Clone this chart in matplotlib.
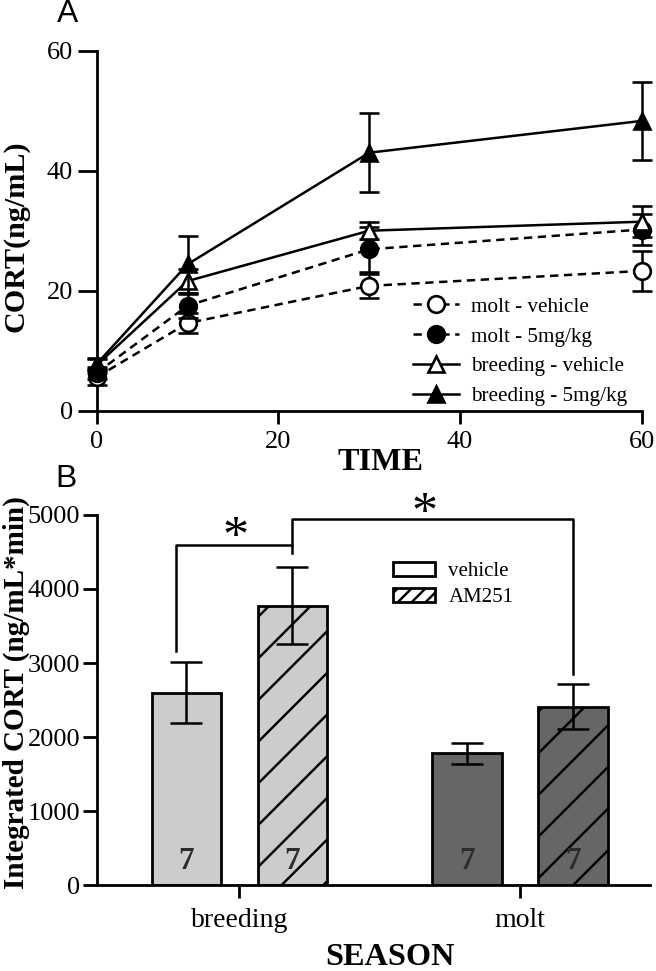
import matplotlib
matplotlib.use("Agg")
import matplotlib.pyplot as plt
from matplotlib.lines import Line2D
from matplotlib.patches import Patch
import numpy as np

# ---------------- data ----------------
time = [0, 10, 30, 60]
molt_vehicle = [5.6, 14.6, 20.8, 23.3]
molt_vehicle_err = [1.3, 1.7, 2.0, 3.3]
molt_5mg = [6.3, 17.5, 26.9, 30.2]
molt_5mg_err = [1.0, 2.0, 3.7, 2.6]
breeding_vehicle = [7.6, 21.6, 30.0, 31.5]
breeding_vehicle_err = [1.0, 2.0, 1.4, 2.6]
breeding_5mg = [7.8, 24.4, 43.0, 48.3]
breeding_5mg_err = [1.0, 4.7, 6.6, 6.5]
series_labels = ["molt - vehicle", "molt - 5mg/kg",
                 "breeding - vehicle", "breeding - 5mg/kg"]

seasons = ["breeding", "molt"]
vehicle_means = [2600, 1780]
vehicle_sem = [415, 140]
am251_means = [3775, 2410]
am251_sem = [518, 308]
n_labels = ["7", "7"]
treat_labels = ["vehicle", "AM251"]

# significance brackets (x in category units, y in data units)
bracket1_x = [-0.225, -0.225, 0.189, 0.189]
bracket1_y = [3160, 4600, 4600, 4490]
bracket2_x = [0.189, 0.189, 1.189, 1.189]
bracket2_y = [4600, 4940, 4940, 2845]
stars_x = [-0.015, 0.658]
stars_y = [4680, 4995]

# ---------------- style ----------------
DPI = 250
W, H = 656, 971
SERIF = ["Liberation Serif", "DejaVu Serif"]
SANS = ["Liberation Sans", "DejaVu Sans"]
plt.rcParams["font.family"] = SERIF
plt.rcParams["hatch.linewidth"] = 0.7
plt.rcParams["lines.scale_dashes"] = False

LW = 0.72
fig = plt.figure(figsize=(W / DPI, H / DPI), dpi=DPI)

# ---------------- panel A ----------------
axA = fig.add_axes([96.7 / W, 1 - 410.7 / H, (641.7 - 96.7) / W, 360 / H])
axA.set_xlim(0, 60)
axA.set_ylim(0, 60)
for s in ["top", "right"]:
    axA.spines[s].set_visible(False)
for s in ["left", "bottom"]:
    axA.spines[s].set_linewidth(0.8)

dash = (0, (2.4, 1.6))
specs = [
    (molt_vehicle, molt_vehicle_err, "o", "white", dash),
    (molt_5mg, molt_5mg_err, "o", "black", dash),
    (breeding_vehicle, breeding_vehicle_err, "^", "white", "-"),
    (breeding_5mg, breeding_5mg_err, "^", "black", "-"),
]
handles = []
for i, (vals, err, mk, fc, ls) in enumerate(specs):
    cont = axA.errorbar(time, vals, yerr=err, color="black", lw=LW, ls=ls,
                        marker=mk, mfc=fc, mec="black", ms=4.8, mew=0.75,
                        capsize=2.9, capthick=LW, elinewidth=LW, clip_on=False,
                        zorder=3 + i)
    for art in cont.lines[1] + cont.lines[2]:
        art.set_clip_on(False)
    cont.lines[0].set_clip_on(False)
    handles.append(Line2D([], [], color="black", lw=LW, ls=ls, marker=mk,
                          mfc=fc, mec="black", ms=4.8, mew=0.75))

axA.set_xticks([0, 20, 40, 60])
axA.set_yticks([0, 20, 40, 60])
axA.tick_params(axis="x", length=3.75, width=0.8, pad=2.2, labelsize=7.6)
axA.tick_params(axis="y", length=5.4, width=0.8, pad=1.4, labelsize=7.6)

legA = axA.legend(handles, series_labels, loc="upper left",
                  bbox_to_anchor=(412.7 / W, 1 - 297 / H),
                  bbox_transform=fig.transFigure, frameon=False,
                  fontsize=6.1, handlelength=2.2, handletextpad=0.55,
                  labelspacing=0.47, borderpad=0, borderaxespad=0)

fig.text(16.5 / W, 1 - 236.5 / H, "CORT(ng/mL)", rotation=90, ha="center",
         va="center", fontsize=8.7, fontweight="bold")
fig.text(380.5 / W, 1 - 462.5 / H, "TIME", ha="center", va="center",
         fontsize=9.3, fontweight="bold")
fig.text(68 / W, 1 - 14.5 / H, "A", ha="center", va="center",
         fontsize=9.2, family=SANS)

# ---------------- panel B ----------------
axB = fig.add_axes([97 / W, 1 - 885 / H, 553 / W, 370 / H])
axB.set_xlim(-0.507, 1.463)
axB.set_ylim(0, 5000)
for s in ["top", "right"]:
    axB.spines[s].set_visible(False)
for s in ["left", "bottom"]:
    axB.spines[s].set_linewidth(0.8)

x = np.arange(len(seasons))
off = 0.189
bw = 0.2476
colors = ["#cccccc", "#666666"]
axB.bar(x - off, vehicle_means, width=bw, color=colors, edgecolor="black",
        linewidth=0.8, zorder=2)
axB.bar(x + off, am251_means, width=bw, color=colors, edgecolor="black",
        linewidth=0.8, hatch="//", zorder=2)
axB.errorbar(x - off, vehicle_means, yerr=vehicle_sem, fmt="none",
             ecolor="black", elinewidth=LW, capsize=4.5, capthick=LW, zorder=3)
axB.errorbar(x + off, am251_means, yerr=am251_sem, fmt="none",
             ecolor="black", elinewidth=LW, capsize=4.5, capthick=LW, zorder=3)

for xi in range(len(seasons)):
    for dx in (-off, off):
        axB.text(xi + dx, 320, n_labels[xi], ha="center", va="center",
                 fontsize=9.0, fontweight="bold", color="#2b2b2b", zorder=4)

axB.plot(bracket1_x, bracket1_y, color="black", lw=LW, clip_on=False)
axB.plot(bracket2_x, bracket2_y, color="black", lw=LW, clip_on=False)
for sx, sy in zip(stars_x, stars_y):
    axB.text(sx, sy, "*", ha="center", va="center", fontsize=15,
             clip_on=False)

axB.set_xticks(x)
axB.set_xticklabels(seasons)
axB.set_yticks([0, 1000, 2000, 3000, 4000, 5000])
axB.tick_params(axis="x", length=3.75, width=0.8, pad=3.0, labelsize=8.0)
axB.tick_params(axis="y", length=4.0, width=0.8, pad=0.8, labelsize=7.6)

legB_handles = [Patch(facecolor="white", edgecolor="black", linewidth=0.8),
                Patch(facecolor="white", edgecolor="black", linewidth=0.8,
                      hatch="//////")]
axB.legend(legB_handles, treat_labels, loc="upper left",
           bbox_to_anchor=(393.3 / W, 1 - 562 / H),
           bbox_transform=fig.transFigure, frameon=False, fontsize=6.0,
           handlelength=2.0, handleheight=0.67, handletextpad=0.64,
           labelspacing=0.3, borderpad=0, borderaxespad=0)

fig.text(16 / W, 1 - 693 / H, "Integrated CORT (ng/mL*min)", rotation=90,
         ha="center", va="center", fontsize=8.4, fontweight="bold")
fig.text(390 / W, 1 - 957.5 / H, "SEASON", ha="center", va="center",
         fontsize=9.3, fontweight="bold")
fig.text(65.5 / W, 1 - 479 / H, "B", ha="center", va="center",
         fontsize=9.2, family=SANS)

fig.savefig("out.png", dpi=DPI)
